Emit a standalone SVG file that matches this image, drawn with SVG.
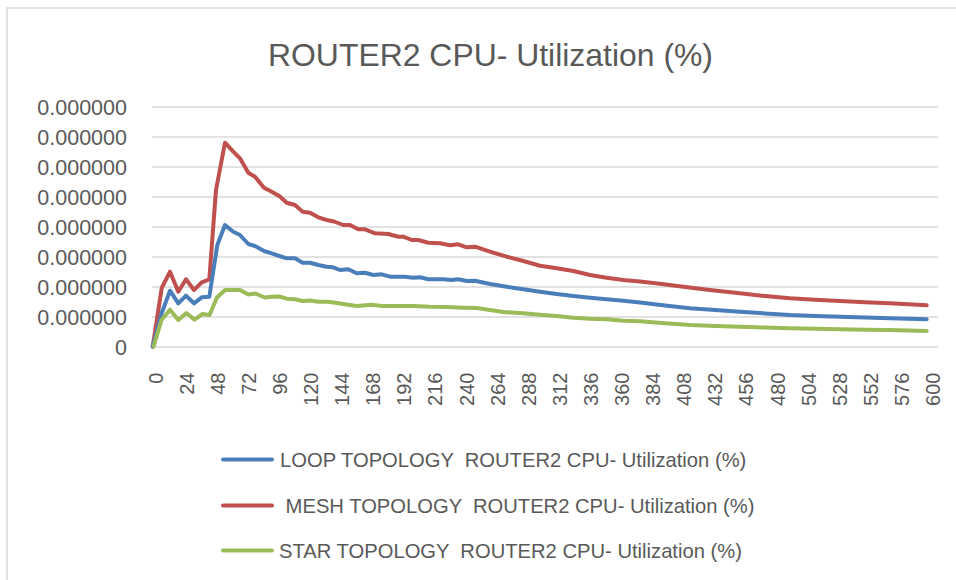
<svg xmlns="http://www.w3.org/2000/svg" width="956" height="580" viewBox="0 0 956 580">
<style>
.frame{fill:#fff;stroke:#d9d9d9;stroke-width:1.5}
.grid{stroke:#d9d9d9;stroke-width:1.5;fill:none}
.title{font-family:"Liberation Sans",Arial,sans-serif;font-size:32px;fill:#595959;text-anchor:middle}
.ylab{font-family:"Liberation Sans",Arial,sans-serif;font-size:21.5px;fill:#595959;text-anchor:end}
.xlab{font-family:"Liberation Sans",Arial,sans-serif;font-size:20px;fill:#595959;text-anchor:end}
.leg{font-family:"Liberation Sans",Arial,sans-serif;font-size:20.2px;fill:#595959;white-space:pre}
.ser{fill:none;stroke-width:4;stroke-linejoin:round;stroke-linecap:round}
.loop{stroke:#4a7ebb}
.mesh{stroke:#c0504d}
.star{stroke:#9bbb59}
</style>
<rect class="frame" x="7" y="8" width="960" height="590"/>
<g id="title"><text class="title" x="490.5" y="66" textLength="445" lengthAdjust="spacingAndGlyphs">ROUTER2 CPU- Utilization (%)</text></g>
<g id="gridlines">
<path class="grid" d="M152 107H938M152 137H938M152 167H938M152 197H938M152 227H938M152 257H938M152 287H938M152 317H938M152 347H938"/>
</g>
<g id="y-axis">
<text class="ylab" x="127" y="114.5">0.000000</text>
<text class="ylab" x="127" y="144.5">0.000000</text>
<text class="ylab" x="127" y="174.5">0.000000</text>
<text class="ylab" x="127" y="204.5">0.000000</text>
<text class="ylab" x="127" y="234.5">0.000000</text>
<text class="ylab" x="127" y="264.5">0.000000</text>
<text class="ylab" x="127" y="294.5">0.000000</text>
<text class="ylab" x="127" y="324.5">0.000000</text>
<text class="ylab" x="127" y="354.5">0</text>
</g>
<g id="x-axis">
<text class="xlab" transform="translate(162.5,372.5) rotate(-90)">0</text>
<text class="xlab" transform="translate(193.6,372.5) rotate(-90)">24</text>
<text class="xlab" transform="translate(224.7,372.5) rotate(-90)">48</text>
<text class="xlab" transform="translate(255.8,372.5) rotate(-90)">72</text>
<text class="xlab" transform="translate(286.9,372.5) rotate(-90)">96</text>
<text class="xlab" transform="translate(318.0,372.5) rotate(-90)">120</text>
<text class="xlab" transform="translate(349.1,372.5) rotate(-90)">144</text>
<text class="xlab" transform="translate(380.2,372.5) rotate(-90)">168</text>
<text class="xlab" transform="translate(411.3,372.5) rotate(-90)">192</text>
<text class="xlab" transform="translate(442.4,372.5) rotate(-90)">216</text>
<text class="xlab" transform="translate(473.5,372.5) rotate(-90)">240</text>
<text class="xlab" transform="translate(504.6,372.5) rotate(-90)">264</text>
<text class="xlab" transform="translate(535.7,372.5) rotate(-90)">288</text>
<text class="xlab" transform="translate(566.8,372.5) rotate(-90)">312</text>
<text class="xlab" transform="translate(597.9,372.5) rotate(-90)">336</text>
<text class="xlab" transform="translate(629.0,372.5) rotate(-90)">360</text>
<text class="xlab" transform="translate(660.1,372.5) rotate(-90)">384</text>
<text class="xlab" transform="translate(691.2,372.5) rotate(-90)">408</text>
<text class="xlab" transform="translate(722.3,372.5) rotate(-90)">432</text>
<text class="xlab" transform="translate(753.4,372.5) rotate(-90)">456</text>
<text class="xlab" transform="translate(784.5,372.5) rotate(-90)">480</text>
<text class="xlab" transform="translate(815.6,372.5) rotate(-90)">504</text>
<text class="xlab" transform="translate(846.7,372.5) rotate(-90)">528</text>
<text class="xlab" transform="translate(877.8,372.5) rotate(-90)">552</text>
<text class="xlab" transform="translate(908.9,372.5) rotate(-90)">576</text>
<text class="xlab" transform="translate(940.0,372.5) rotate(-90)">600</text>
</g>
<g id="series">
<polyline id="mesh-line" class="ser mesh" points="152.7,346.7 161.7,288 170,271.7 178.3,291.7 186,279.3 194,290 201.7,282.3 209.3,279.3 216,190 225,142.7 233.3,151.7 240,158.3 248.3,172.7 255,176.7 264,187.7 271.7,191.7 279.3,196 286.7,202.7 295,205 302.7,211.7 310,212.7 318.3,217.3 326.7,220 334,221.5 343.3,225 350,225 358.3,229.3 365,229.3 375,233.3 388.3,234 398.3,236.7 403.3,236.7 411.7,240 418.3,240 428.3,242.7 440,243.3 450,245.3 458.3,244.3 466.7,247.3 475,246.7 490,251.7 506.7,256.7 523.3,261 540,265.7 556.7,268.3 573.3,271 590,275 606.7,277.7 623.3,280 640,281.5 662,284 683.3,286.7 712,290.2 740,293.3 765,296 790,298.3 815,299.8 840,301 865,302.2 890,303.3 926.7,305.3"/>
<polyline id="loop-line" class="ser loop" points="152.7,346.7 161.7,313 170,290.7 178.3,303.3 186,295.7 194,303.3 201.7,297.3 209.3,296.7 217.3,245 225,225 233.3,231.7 240,235 248.3,244 255,246 264,251 271.7,253.3 279.3,256 286.7,258.3 295,258.3 302.7,262.7 310,262.7 318.3,265 326.7,266.7 333,267.3 340,270 348.3,269.3 356.7,273.3 365,272.7 373.3,275 381.7,274.3 390,276.7 405,276.7 413.3,277.7 420,277.3 428.3,279.3 443.3,279.3 451.7,280 458.3,279.3 466.7,281 475,280.7 490,284 506.7,286.7 523.3,289.3 540,291.7 556.7,294 573.3,296 590,297.7 606.7,299.3 623.3,300.7 640,302.5 665,305.5 690,308.3 715,310 740,311.7 765,313.4 790,315 815,315.9 840,316.7 865,317.5 890,318.3 926.7,319.3"/>
<polyline id="star-line" class="ser star" points="153.5,346.7 161.5,320 170,309.7 178.3,320 186.3,313 194.5,319.6 202.5,314 209.5,315 217,297.5 225,290 233.3,290 240,290 248.3,294.5 255.5,293.5 264.5,297.5 271.7,296.7 279.3,296.5 286.7,298.7 295,299.2 302.7,301 310,300.5 318.3,301.7 326.7,301.7 334,302.5 343.3,304 356.7,306 371.7,304.7 381.7,306 396.7,306 413.3,306 430,306.7 446.7,307 463.3,307.7 476.7,308 490,310 503.3,312 523.3,313.3 540,314.7 556.7,316 573.3,317.7 590,318.7 606.7,319.3 623.3,320.7 640,321.3 665,323.2 690,325 715,325.9 740,326.7 765,327.5 790,328.3 815,328.8 840,329.3 865,329.7 890,330 926.7,331"/>
</g>
<g id="legend">
<g id="legend-loop"><line class="ser loop" x1="223" y1="459.5" x2="272" y2="459.5"/><text class="leg" x="280" y="466.5" xml:space="preserve">LOOP TOPOLOGY  ROUTER2 CPU- Utilization (%)</text></g>
<g id="legend-mesh"><line class="ser mesh" x1="223" y1="505.5" x2="272" y2="505.5"/><text class="leg" x="280" y="512.5" xml:space="preserve"> MESH TOPOLOGY  ROUTER2 CPU- Utilization (%)</text></g>
<g id="legend-star"><line class="ser star" x1="223" y1="550.5" x2="272" y2="550.5"/><text class="leg" x="279" y="557.5" xml:space="preserve">STAR TOPOLOGY  ROUTER2 CPU- Utilization (%)</text></g>
</g>
</svg>
